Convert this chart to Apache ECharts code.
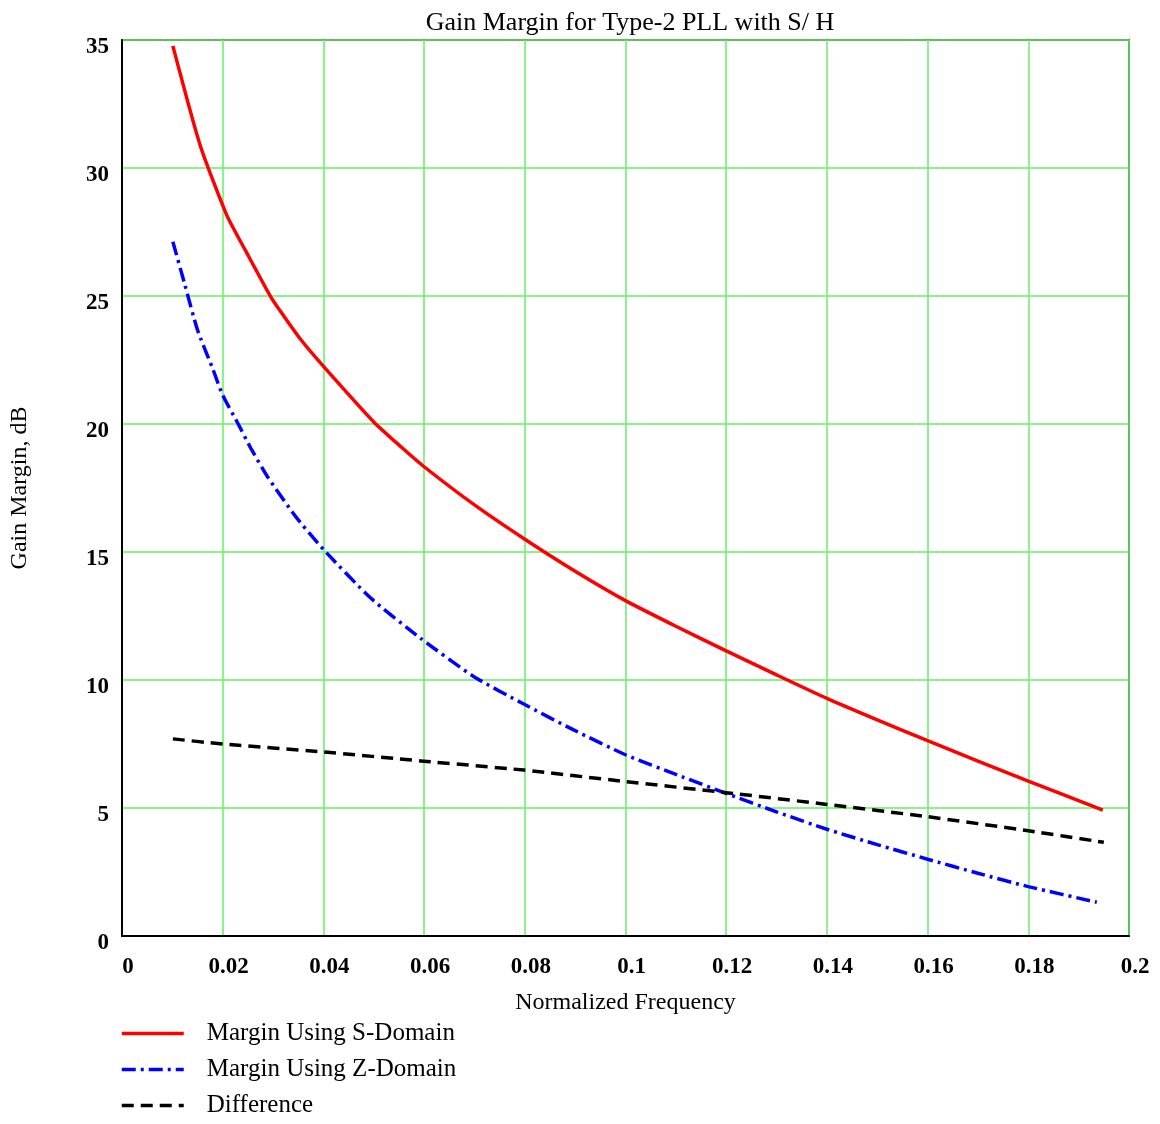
<!DOCTYPE html>
<html>
<head>
<meta charset="utf-8">
<script src="https://cdn.jsdelivr.net/npm/echarts@6/dist/echarts.min.js"></script>
<style>
  html, body { margin: 0; padding: 0; background: #fff; }
  #chart { width: 1160px; height: 1124px; }
</style>
</head>
<body>
<div id="chart"></div>
<script>
// values
const sDomain = [
  [0.0101, 34.77], [0.0155, 30.9], [0.0208, 28.16], [0.0246, 26.75], [0.0296, 24.95],
  [0.0322, 24.2], [0.0355, 23.3], [0.0398, 22.3], [0.050, 20.08],
  [0.0554, 19.11], [0.060, 18.33], [0.070, 16.84], [0.080, 15.5], [0.090, 14.25],
  [0.100, 13.1], [0.110, 12.1], [0.120, 11.14], [0.130, 10.2], [0.140, 9.28],
  [0.150, 8.44], [0.160, 7.63], [0.170, 6.83], [0.180, 6.05], [0.1948, 4.92]
];
const zDomain = [
  [0.0101, 27.12], [0.0124, 25.5], [0.0150, 23.67], [0.018, 22.17], [0.020, 21.13],
  [0.023, 20.03], [0.0256, 19.05], [0.0289, 17.94], [0.0345, 16.38], [0.040, 15.1],
  [0.0494, 13.2], [0.0593, 11.63], [0.0699, 10.13], [0.0798, 9.06], [0.0897, 8.05],
  [0.1001, 7.07], [0.1103, 6.29], [0.120, 5.57], [0.130, 4.85], [0.140, 4.17],
  [0.150, 3.57], [0.160, 3.0], [0.170, 2.45], [0.180, 1.93], [0.1936, 1.32]
];
const difference = [
  [0.0101, 7.7], [0.020, 7.5], [0.040, 7.19], [0.0593, 6.84], [0.0798, 6.48],
  [0.1001, 6.03], [0.120, 5.6], [0.140, 5.14], [0.160, 4.66], [0.180, 4.11], [0.195, 3.66]
];
const seriesNames = ['Margin Using S-Domain', 'Margin Using Z-Domain', 'Difference'];

const serif = '"Liberation Serif", "DejaVu Serif", serif';
const chart = echarts.init(document.getElementById('chart'));

chart.setOption({
  backgroundColor: '#fff',
  animation: false,
  title: {
    text: 'Gain Margin for Type-2 PLL with S/ H',
    left: 625,
    textAlign: 'center',
    top: 5,
    textStyle: { fontFamily: serif, fontSize: 26, fontWeight: 'normal', color: '#000' }
  },
  grid: {
    left: 121, right: 31, top: 40, bottom: 188,
    show: true, borderColor: '#000', borderWidth: 1.5, backgroundColor: '#fff'
  },
  legend: {
    orient: 'vertical',
    left: 120,
    top: 1021,
    padding: 0,
    height: 130,
    itemWidth: 62,
    itemHeight: 14,
    itemGap: 11,
    data: seriesNames,
    itemStyle: { opacity: 0 },
    lineStyle: { width: 3.5 },
    textStyle: { fontFamily: serif, fontSize: 25, color: '#000', padding: [0, 0, 0, 18] }
  },
  xAxis: {
    type: 'value',
    min: 0, max: 0.2, interval: 0.02,
    name: 'Normalized Frequency',
    nameLocation: 'middle',
    nameGap: 55,
    nameTextStyle: { fontFamily: serif, fontSize: 24, color: '#000' },
    axisLine: { lineStyle: { color: '#000', width: 2 } },
    axisTick: { show: false },
    axisLabel: {
      margin: 20,
      padding: [0, 0, 0, 12],
      fontFamily: serif, fontSize: 23, fontWeight: 'bold', color: '#000'
    },
    splitLine: { lineStyle: { color: '#66ee66', width: 1.5 } }
  },
  yAxis: {
    type: 'value',
    min: 0, max: 35, interval: 5,
    name: 'Gain Margin, dB',
    nameLocation: 'middle',
    nameGap: 90,
    nameTextStyle: { fontFamily: serif, fontSize: 24, color: '#000' },
    axisLine: { show: true, lineStyle: { color: '#000', width: 2 } },
    axisTick: { show: false },
    axisLabel: {
      margin: 13,
      formatter: '{v|{value}}',
      rich: {
        v: { padding: [14, 0, 0, 0], fontFamily: serif, fontSize: 23, fontWeight: 'bold', color: '#000' }
      }
    },
    splitLine: { lineStyle: { color: '#66ee66', width: 1.5 } }
  },
  series: [
    {
      name: seriesNames[0], type: 'line', data: sDomain, smooth: 0.2,
      symbol: 'none', lineStyle: { color: '#ff0000', width: 3.5 }, itemStyle: { color: '#ff0000' }
    },
    {
      name: seriesNames[1], type: 'line', data: zDomain, smooth: 0.2,
      symbol: 'none', lineStyle: { color: '#0000ff', width: 3.5, type: [14, 5, 3, 5] }, itemStyle: { color: '#0000ff' }
    },
    {
      name: seriesNames[2], type: 'line', data: difference, smooth: 0.2,
      symbol: 'none', lineStyle: { color: '#000', width: 3.5, type: [12, 7] }, itemStyle: { color: '#000' }
    }
  ]
});
</script>
</body>
</html>
